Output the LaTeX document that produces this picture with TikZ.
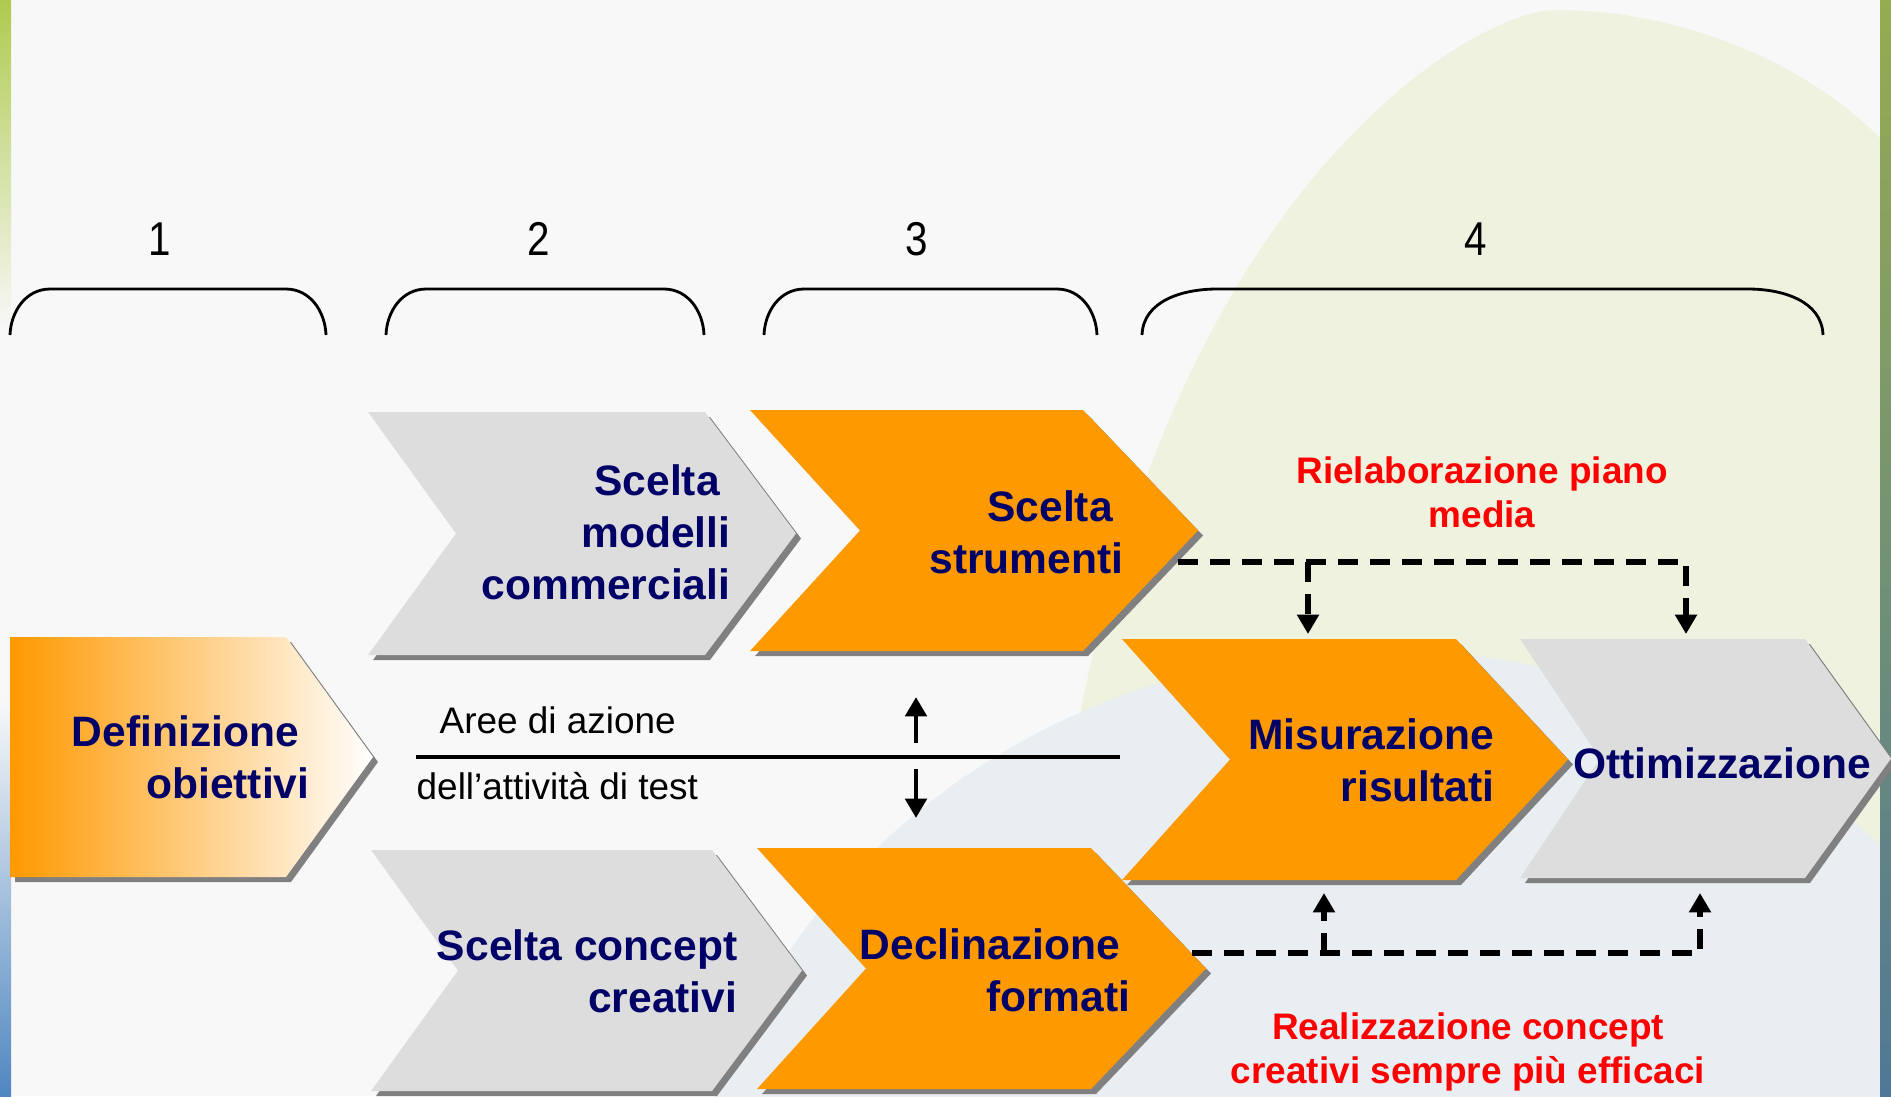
\documentclass[tikz,border=0pt]{standalone}
\usepackage{fontspec}
\setmainfont{Liberation Sans}
\usetikzlibrary{arrows.meta}

\definecolor{chevorange}{RGB}{255,153,0}
\definecolor{chevgray}{RGB}{221,221,221}
\definecolor{shadowgray}{RGB}{128,128,128}
\definecolor{labelnavy}{RGB}{0,0,102}
\definecolor{bgwhite}{RGB}{248,248,248}
\definecolor{bggreen}{RGB}{238,242,222}
\definecolor{bgblue}{RGB}{232,238,241}
\definecolor{stripgreen}{RGB}{174,203,79}
\definecolor{stripblue}{RGB}{79,135,192}
\definecolor{stripolive}{RGB}{150,172,80}
\definecolor{stripgrey}{RGB}{172,176,160}
\definecolor{stripsteel}{RGB}{80,120,150}

\tikzset{
  steplabel/.style={font=\fontsize{12.1}{14.8}\selectfont\bfseries, text=labelnavy, align=right, inner sep=0pt},
  notelabel/.style={font=\fontsize{10.5}{12.5}\selectfont\bfseries, text=red, align=center, inner sep=0pt},
  arealabel/.style={font=\fontsize{10.5}{12.5}\selectfont, inner sep=0pt},
  phasenum/.style={font=\fontsize{13.5}{13.5}\selectfont, xscale=0.85, inner sep=0pt},
  bracket/.style={line width=0.8pt},
  feedback/.style={line width=1.7pt, dash pattern=on 5.7pt off 3.4pt, -{Triangle[length=5.5pt,width=6pt]}},
  testarrow/.style={line width=1.4pt, -{Triangle[length=5.5pt,width=6pt]}}
}

\begin{document}
\begin{tikzpicture}[x=0.01cm,y=-0.01cm]
\useasboundingbox (0,0) rectangle (1891,1096);

% le fond
\begin{scope}
\clip (0,0) rectangle (1891,1096);
\fill[bgwhite] (0,0) rectangle (1891,1096);
\fill[bggreen] (1040,1096) .. controls (1060,250) and (1460,10) .. (1556,10) .. controls (1690,10) and (1820,70) .. (1891,150) -- (1891,1096) -- cycle;
\fill[bgblue] (1380,1300) ellipse [x radius=700, y radius=650];
\shade[top color=stripgreen, bottom color=bgwhite] (0,0) rectangle (11,330);% bande gauche
\shade[top color=bgwhite, bottom color=stripblue] (0,700) rectangle (11,1096);
\shade[top color=stripolive, middle color=stripgrey, bottom color=stripsteel] (1880,0) rectangle (1891,1096);% bande droite
\end{scope}

% les phases
\draw[bracket] (10,335) to[out=88,in=180] (50,289) -- (286,289) to[out=0,in=92] (326,335);
\draw[bracket] (386,335) to[out=88,in=180] (426,289) -- (664,289) to[out=0,in=92] (704,335);
\draw[bracket] (764,335) to[out=88,in=180] (804,289) -- (1057,289) to[out=0,in=92] (1097,335);
\draw[bracket] (1142,335) to[out=88,in=180] (1217,289) -- (1748,289) to[out=0,in=92] (1823,335);

\node[phasenum] (ph1) at (160,239) {1};
\node[phasenum] (ph2) at (539,239) {2};
\node[phasenum] (ph3) at (917,239) {3};
\node[phasenum] (ph4) at (1476,239) {4};

% les chevrons : nom, aspect, haut, bas, gauche, creux, droite, pointe
\def\chevron#1#2#3#4#5#6#7#8{%
  \fill[shadowgray] ({#5+5},{#3+5}) -- ({#7+5},{#3+5}) -- ({#8+5},{(#3+#4)/2+5}) -- ({#7+5},{#4+5}) -- ({#5+5},{#4+5}) -- ({#6+5},{(#3+#4)/2+5}) -- cycle;% ombre
  \path[#2] (#5,#3) coordinate (#1-nw) -- (#7,#3) coordinate (#1-ne) -- (#8,{(#3+#4)/2}) coordinate (#1-tip) -- (#7,#4) coordinate (#1-se) -- (#5,#4) coordinate (#1-sw) -- (#6,{(#3+#4)/2}) coordinate (#1-notch) -- cycle;
}

\chevron{defc}{left color=chevorange,right color=white}{637}{877}{10}{10}{286}{373}
\chevron{modc}{fill=chevgray}{412}{655}{368}{456}{705}{796}
\chevron{strc}{fill=chevorange}{410}{651}{750}{860}{1083}{1198}
\chevron{conc}{fill=chevgray}{850}{1091}{371}{458}{712}{802}
\chevron{decc}{fill=chevorange}{848}{1089}{757}{866}{1091}{1206}
\chevron{misc}{fill=chevorange}{639}{880}{1122}{1230}{1456}{1568}
\chevron{ottc}{fill=chevgray}{639}{878}{1520}{1600}{1805}{1891}

\node[steplabel, anchor=east] (def) at (310,757) {Definizione\hspace*{3pt}\\obiettivi};
\node[steplabel, anchor=east] (modelli) at (731,532) {Scelta\hspace*{3pt}\\modelli\hspace*{3pt}\\commerciali};
\node[steplabel, anchor=east] (strum) at (1124,532) {Scelta\hspace*{3pt}\\strumenti};
\node[steplabel, anchor=east] (concept) at (738,971) {Scelta concept\\creativi};
\node[steplabel, anchor=east] (decl) at (1131,970) {Declinazione\hspace*{3pt}\\formati};
\node[steplabel, anchor=east] (misur) at (1495,760) {Misurazione\\risultati};
\node[steplabel] (ottim) at (1722,763) {Ottimizzazione};

% aree di azione
\node[arealabel, anchor=west] (aree) at (439,720) {Aree di azione};
\node[arealabel, anchor=west] (attiv) at (416,786) {dell’attività di test};
\coordinate (divl) at (416,757);
\coordinate (divr) at (1120,757);
\draw[line width=1.4pt] (divl) -- (divr);
\coordinate (upfrom) at (916,743);
\coordinate (upto) at (916,697);
\coordinate (downfrom) at (916,769);
\coordinate (downto) at (916,818);
\draw[testarrow] (upfrom) -- (upto);
\draw[testarrow] (downfrom) -- (downto);

% retroazioni
\node[notelabel] (rielab) at (1482,492) {Rielaborazione piano\\media};
\node[notelabel] (realiz) at (1468,1052) {Realizzazione concept\\creativi sempre più efficaci};

\coordinate (strum-out) at (1178,562);
\coordinate (mis-in) at (1308,634);
\coordinate (ott-in) at (1686,634);
\draw[feedback] (strum-out) -| (ott-in);
\draw[feedback] (strum-out -| mis-in) -- (mis-in);

\coordinate (decl-out) at (1192,953);
\coordinate (mis-back) at (1324,893);
\coordinate (ott-back) at (1700,893);
\draw[feedback] (decl-out) -| (ott-back);
\draw[feedback] (decl-out -| mis-back) -- (mis-back);

\end{tikzpicture}
\end{document}
